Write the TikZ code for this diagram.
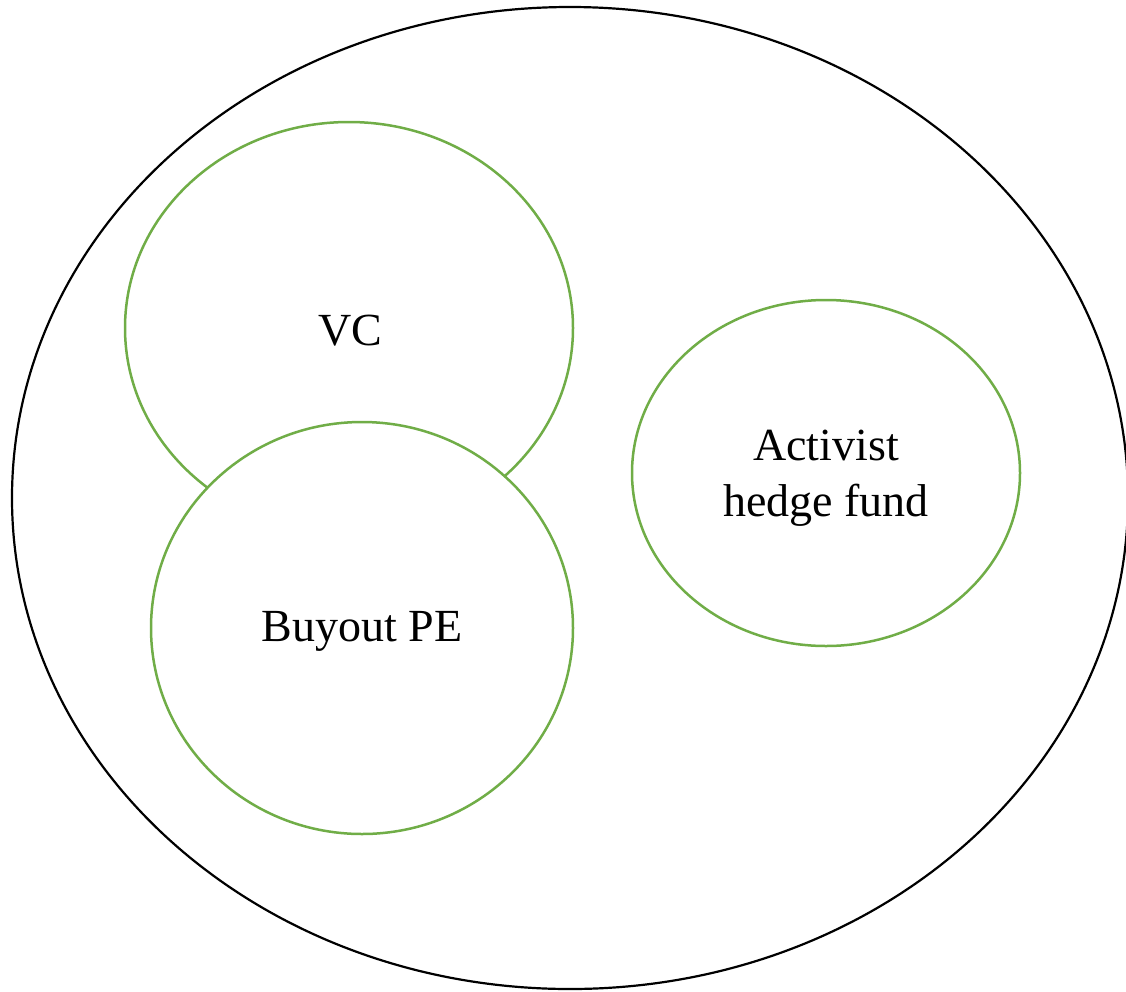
\documentclass[tikz,border=0pt]{standalone}
\usepackage{fontspec}
\setmainfont{Liberation Serif}
\usetikzlibrary{shapes.geometric}
\definecolor{setgreen}{RGB}{112,173,71}
\begin{document}
\begin{tikzpicture}[x=1pt,y=-1pt,
  outerset/.style={ellipse,draw=black,line width=2.2pt,inner sep=0pt},
  subset/.style={ellipse,draw=setgreen,line width=2.5pt,fill=white,inner sep=0pt},
  settext/.style={align=center,inner sep=0pt,font=\fontsize{46}{56}\selectfont}]
\useasboundingbox (0,0) rectangle (1126,991);
\node[outerset,minimum width=1116,minimum height=982] (all) at (570,498) {};
\node[subset,minimum width=448,minimum height=412] (vc) at (349,328) {};
\node[settext] (vct) at (350,331) {VC};
\node[subset,minimum width=422,minimum height=412] (bo) at (362,628) {};
\node[settext] (bot) at (362,631) {Buyout PE};
\node[subset,minimum width=388,minimum height=346] (ah) at (826,473) {};
\node[settext] (aht) at (826,478) {Activist\\hedge fund};
\end{tikzpicture}
\end{document}
